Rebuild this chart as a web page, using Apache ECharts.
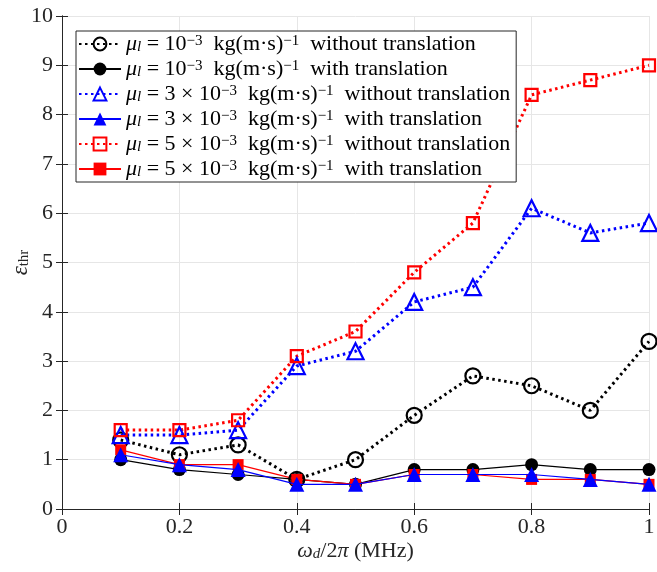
<!DOCTYPE html>
<html>
<head>
<meta charset="utf-8">
<script src="https://cdn.jsdelivr.net/npm/echarts@6/dist/echarts.min.js"></script>
<style>
  html, body { margin: 0; padding: 0; background: #fff; }
  #chart { width: 657px; height: 572px; }
</style>
</head>
<body>
<div id="chart"></div>
<script>
// frequency w_d/2pi (MHz)
var freq = [0.1, 0.2, 0.3, 0.4, 0.5, 0.6, 0.7, 0.8, 0.9, 1.0]

// eps_thr
var mu1NoTrans = [1.4, 1.1, 1.3, 0.6, 1.0, 1.9, 2.7, 2.5, 2.0, 3.4]
var mu1Trans = [1.0, 0.8, 0.7, 0.6, 0.5, 0.8, 0.8, 0.9, 0.8, 0.8]
var mu3NoTrans = [1.5, 1.5, 1.6, 2.9, 3.2, 4.2, 4.5, 6.1, 5.6, 5.8]
var mu3Trans = [1.1, 0.9, 0.8, 0.5, 0.5, 0.7, 0.7, 0.7, 0.6, 0.5]
var mu5NoTrans = [1.6, 1.6, 1.8, 3.1, 3.6, 4.8, 5.8, 8.4, 8.7, 9.0]
var mu5Trans = [1.2, 0.9, 0.9, 0.6, 0.5, 0.7, 0.7, 0.6, 0.6, 0.5]

var seriesNames = ['s1', 's2', 's3', 's4', 's5', 's6']
var legendText = {
  s1: '{m|μ}{sub|l}{t| = 10}{sup|−3}{t|  kg(m·s)}{sup|−1}{t|  without translation}',
  s2: '{m|μ}{sub|l}{t| = 10}{sup|−3}{t|  kg(m·s)}{sup|−1}{t|  with translation}',
  s3: '{m|μ}{sub|l}{t| = 3 × 10}{sup|−3}{t|  kg(m·s)}{sup|−1}{t|  without translation}',
  s4: '{m|μ}{sub|l}{t| = 3 × 10}{sup|−3}{t|  kg(m·s)}{sup|−1}{t|  with translation}',
  s5: '{m|μ}{sub|l}{t| = 5 × 10}{sup|−3}{t|  kg(m·s)}{sup|−1}{t|  without translation}',
  s6: '{m|μ}{sub|l}{t| = 5 × 10}{sup|−3}{t|  kg(m·s)}{sup|−1}{t|  with translation}'
}

var serif = 'Liberation Serif'
var axisColor = '#262626'

function pairs (vals) {
  return freq.map(function (x, i) { return [x, vals[i]] })
}

function dottedSeries (name, vals, color, symbol, size) {
  return {
    name: name,
    type: 'line',
    data: pairs(vals),
    symbol: symbol,
    symbolSize: size,
    lineStyle: { color: color, width: 3, type: [2.5, 3.5] },
    itemStyle: { color: 'rgba(255,255,255,0)', borderColor: color, borderWidth: 2.2 }
  }
}

function solidSeries (name, vals, color, symbol, size, z) {
  return {
    name: name,
    type: 'line',
    z: z,
    data: pairs(vals),
    symbol: symbol,
    symbolSize: size,
    lineStyle: { color: color, width: 1.2 },
    itemStyle: { color: color }
  }
}

var myChart = echarts.init(document.getElementById('chart'))

var option = {
  backgroundColor: '#fff',
  animation: false,
  grid: { left: 62, right: 8, top: 16, bottom: 63, outerBoundsMode: 'none' },
  legend: {
    orient: 'vertical',
    left: 76,
    top: 31,
    data: seriesNames,
    itemWidth: 42,
    itemHeight: 16,
    itemGap: 3,
    padding: [2, 6, 2, 2],
    backgroundColor: '#fff',
    borderColor: axisColor,
    borderWidth: 1,
    formatter: function (name) { return legendText[name] },
    textStyle: {
      fontFamily: serif,
      fontSize: 22,
      color: '#000',
      rich: {
        t: { fontFamily: serif, fontSize: 22, color: '#000', lineHeight: 21 },
        m: { fontFamily: serif, fontSize: 22, fontStyle: 'italic', color: '#000', lineHeight: 21 },
        sub: { fontFamily: serif, fontSize: 15, fontStyle: 'italic', color: '#000', verticalAlign: 'bottom', lineHeight: 12 },
        sup: { fontFamily: serif, fontSize: 15, color: '#000', verticalAlign: 'top', lineHeight: 12 }
      }
    }
  },
  xAxis: [
    {
      type: 'value',
      min: 0,
      max: 1,
      interval: 0.2,
      name: '{w|ω}{sub|d}{t|/2}{w|π}{t| (MHz)}',
      nameLocation: 'middle',
      nameGap: 31,
      nameMoveOverlap: false,
      nameTextStyle: {
        rich: {
          t: { fontFamily: serif, fontSize: 22, color: '#262626' },
          w: { fontFamily: serif, fontSize: 22, fontStyle: 'italic', color: '#262626' },
          sub: { fontFamily: serif, fontSize: 15, fontStyle: 'italic', color: '#262626', verticalAlign: 'bottom', lineHeight: 10 }
        }
      },
      axisLine: { show: true, onZero: false, lineStyle: { color: axisColor, width: 1 } },
      axisTick: { show: true, inside: true, length: 6, lineStyle: { color: axisColor } },
      axisLabel: { fontFamily: serif, fontSize: 22, color: '#262626', margin: 7 },
      splitLine: { show: true, lineStyle: { color: '#e6e6e6', width: 1 } }
    },
    {
      type: 'value',
      position: 'top',
      min: 0,
      max: 1,
      interval: 0.2,
      axisLine: { show: true, lineStyle: { color: axisColor, width: 1 } },
      axisTick: { show: true, inside: true, length: 6, lineStyle: { color: axisColor } },
      axisLabel: { show: false },
      splitLine: { show: false }
    }
  ],
  yAxis: [
    {
      type: 'value',
      min: 0,
      max: 10,
      interval: 1,
      name: '{e|ε}{sub|thr}',
      nameLocation: 'middle',
      nameGap: 30,
      nameMoveOverlap: false,
      nameTextStyle: {
        rich: {
          e: { fontFamily: serif, fontSize: 23, fontStyle: 'italic', color: '#262626' },
          sub: { fontFamily: serif, fontSize: 15, color: '#262626', verticalAlign: 'bottom', lineHeight: 10 }
        }
      },
      axisLine: { show: true, onZero: false, lineStyle: { color: axisColor, width: 1 } },
      axisTick: { show: true, inside: true, length: 6, lineStyle: { color: axisColor } },
      axisLabel: { fontFamily: serif, fontSize: 22, color: '#262626', margin: 9 },
      splitLine: { show: true, lineStyle: { color: '#e6e6e6', width: 1 } }
    },
    {
      type: 'value',
      position: 'right',
      min: 0,
      max: 10,
      interval: 1,
      axisLine: { show: true, lineStyle: { color: axisColor, width: 1 } },
      axisTick: { show: true, inside: true, length: 6, lineStyle: { color: axisColor } },
      axisLabel: { show: false },
      splitLine: { show: false }
    }
  ],
  series: [
    dottedSeries('s1', mu1NoTrans, '#000000', 'circle', 15),
    solidSeries('s2', mu1Trans, '#000000', 'circle', 13, 2),
    dottedSeries('s3', mu3NoTrans, '#0000ff', 'triangle', 16),
    solidSeries('s4', mu3Trans, '#0000ff', 'triangle', 15, 4),
    dottedSeries('s5', mu5NoTrans, '#ff0000', 'rect', 12),
    solidSeries('s6', mu5Trans, '#ff0000', 'rect', 11, 3)
  ]
}

myChart.setOption(option)
</script>
</body>
</html>
